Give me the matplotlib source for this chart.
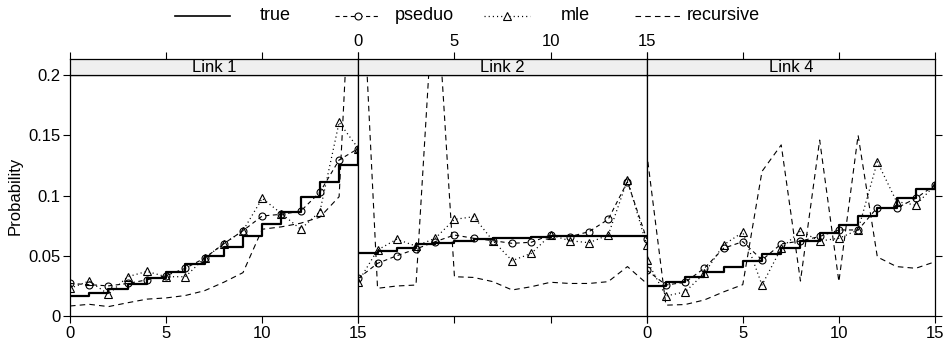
import matplotlib.pyplot as plt
from matplotlib.lines import Line2D
import numpy as np

plt.rcParams['font.family'] = ['Liberation Sans', 'DejaVu Sans']
plt.rcParams['lines.scale_dashes'] = False

x = np.arange(16)
links = ['Link 1', 'Link 2', 'Link 4']

# values, one list per series and link
true_vals = [
    [0.0166, 0.0193, 0.0227, 0.0268, 0.0315, 0.0368, 0.0432, 0.050,
     0.0575, 0.0664, 0.0761, 0.0866, 0.0985, 0.1115, 0.1253, 0.139],
    [0.052, 0.054, 0.0567, 0.0595, 0.0608, 0.0625, 0.0639, 0.0645,
     0.065, 0.0655, 0.066, 0.0661, 0.0661, 0.0661, 0.066, 0.066],
    [0.0249, 0.0285, 0.032, 0.0363, 0.041, 0.0456, 0.0512, 0.0567,
     0.0625, 0.0686, 0.0755, 0.083, 0.090, 0.0977, 0.1051, 0.1087],
]
pseudo_vals = [
    [0.027, 0.026, 0.025, 0.027, 0.030, 0.0335, 0.0396, 0.048,
     0.060, 0.0708, 0.083, 0.0844, 0.087, 0.1027, 0.1295, 0.139],
    [0.0313, 0.0437, 0.050, 0.0556, 0.0617, 0.0672, 0.0645, 0.0625,
     0.0603, 0.0612, 0.0672, 0.0658, 0.070, 0.0802, 0.1115, 0.064],
    [0.0382, 0.0257, 0.028, 0.0396, 0.0562, 0.0617, 0.0465, 0.0598,
     0.0622, 0.066, 0.0714, 0.0714, 0.090, 0.0895, 0.0977, 0.1087],
]
mle_vals = [
    [0.023, 0.029, 0.018, 0.0326, 0.037, 0.0326, 0.0326, 0.048,
     0.060, 0.0708, 0.0976, 0.085, 0.072, 0.0866, 0.1607, 0.139],
    [0.0285, 0.0548, 0.0637, 0.058, 0.0645, 0.0802, 0.0824, 0.0625,
     0.0459, 0.052, 0.0672, 0.0625, 0.0608, 0.0672, 0.1129, 0.0589],
    [0.0465, 0.0166, 0.020, 0.0354, 0.059, 0.0695, 0.0257, 0.0562,
     0.0705, 0.0622, 0.0645, 0.0714, 0.128, 0.095, 0.092, 0.1087],
]
recursive_vals = [
    [0.0083, 0.0097, 0.0078, 0.011, 0.014, 0.015, 0.017, 0.021,
     0.028, 0.036, 0.072, 0.074, 0.077, 0.082, 0.099, 0.42],
    [0.35, 0.023, 0.0249, 0.0257, 0.29, 0.0326, 0.032, 0.0285,
     0.0216, 0.0243, 0.028, 0.027, 0.027, 0.0285, 0.041, 0.027],
    [0.136, 0.009, 0.0095, 0.0133, 0.020, 0.026, 0.12, 0.142,
     0.029, 0.146, 0.0285, 0.150, 0.049, 0.041, 0.0396, 0.045],
]

W, H = 943, 346
fig = plt.figure(figsize=(W / 100, H / 100), dpi=100)


def box(px0, py0, px1, py1):
    return [px0 / W, 1 - py1 / H, (px1 - px0) / W, (py1 - py0) / H]


left, right = 70, 935
pw = (right - left) / 3
tick_kw = dict(direction='out', length=5, width=0.8, labelsize=12, pad=2)

for i in range(3):
    x0 = left + i * pw
    ax = fig.add_axes(box(x0, 75, x0 + pw, 316))
    ax.plot(x, true_vals[i], color='black', lw=1.6, drawstyle='steps-post')
    ax.plot(x, pseudo_vals[i], color='black', lw=0.8, dashes=(3, 2.5),
            marker='o', ms=5, mfc='none', mew=0.8)
    ax.plot(x, mle_vals[i], color='black', lw=0.9, dashes=(0.8, 2.2),
            marker='^', ms=6, mfc='none', mew=0.8)
    ax.plot(x, recursive_vals[i], color='black', lw=0.8, dashes=(4, 3))
    ax.set_xlim(0, 15)
    ax.set_ylim(0, 0.2)
    ax.set_xticks([0, 5, 10, 15])
    ax.set_yticks([0, 0.05, 0.1, 0.15, 0.2])
    ax.set_yticklabels(['0', '0.05', '0.1', '0.15', '0.2'])
    ax.tick_params(axis='both', **tick_kw)
    ax.tick_params(axis='x', labelbottom=(i != 1))
    ax.tick_params(axis='y', left=(i == 0), labelleft=(i == 0),
                   right=(i == 2), labelright=False)
    for s in ax.spines.values():
        s.set_linewidth(0.9)
    if i == 0:
        ax.set_ylabel('Probability', fontsize=12, labelpad=4)

    st = fig.add_axes(box(x0, 59, x0 + pw, 75))
    st.set_facecolor('#efefef')
    st.set_xlim(0, 15)
    st.set_xticks([0, 5, 10, 15])
    st.set_yticks([])
    st.xaxis.tick_top()
    st.tick_params(axis='x', **tick_kw)
    st.tick_params(axis='x', labeltop=(i == 1))
    for s in st.spines.values():
        s.set_linewidth(0.9)
    st.text(0.5, 0.45, links[i], transform=st.transAxes, ha='center',
            va='center', fontsize=12)

# legend row
lg = fig.add_axes([0, 0, 1, 1])
lg.set_xlim(0, W)
lg.set_ylim(H, 0)
lg.axis('off')
ly = 16
lg.add_line(Line2D([175, 230], [ly, ly], color='black', lw=1.2))
lg.text(260, ly, 'true', va='center', fontsize=13)
lg.add_line(Line2D([335, 380], [ly, ly], color='black', lw=0.8, dashes=(3, 2.5)))
lg.plot([357.5], [ly], marker='o', ms=5, mfc='white', mec='black', mew=0.8)
lg.text(395, ly, 'pseduo', va='center', fontsize=13)
lg.add_line(Line2D([484, 530], [ly, ly], color='black', lw=0.9, dashes=(0.8, 2.2)))
lg.plot([507], [ly], marker='^', ms=6, mfc='white', mec='black', mew=0.8)
lg.text(561, ly, 'mle', va='center', fontsize=13)
lg.add_line(Line2D([635, 680], [ly, ly], color='black', lw=0.8, dashes=(4, 3)))
lg.text(687, ly, 'recursive', va='center', fontsize=13)

fig.savefig('out.png', dpi=100)
